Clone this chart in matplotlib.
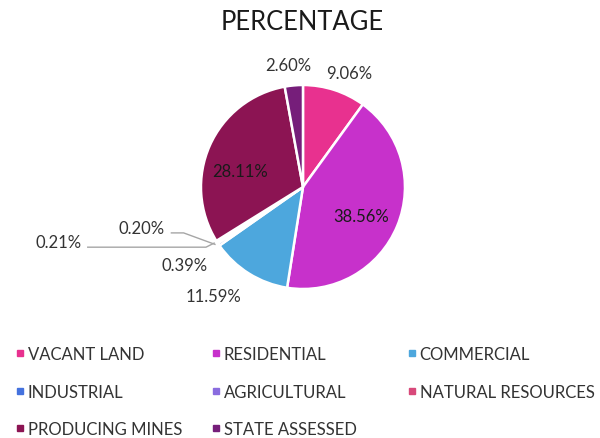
import matplotlib.pyplot as plt
from matplotlib.lines import Line2D
import numpy as np

plt.rcParams['font.family'] = ['Lato', 'DejaVu Sans']

categories = ['VACANT LAND', 'RESIDENTIAL', 'COMMERCIAL', 'INDUSTRIAL',
              'AGRICULTURAL', 'NATURAL RESOURCES', 'PRODUCING MINES', 'STATE ASSESSED']
percent = [9.06, 38.56, 11.59, 0.39, 0.20, 0.21, 28.11, 2.60]
colors = ['#E8318F', '#C731CB', '#4DA7DD', '#4472DE', '#8A6CDF', '#D8497A', '#8C1453', '#761E7A']

# where each label sits, relative to pie centre (radius = 1)
label_xy = [(0.45, 1.12), (0.57, -0.28), (-0.88, -1.07), (-1.16, -0.76),
            (-1.58, -0.40), (-2.40, -0.54), (-0.62, 0.16), (-0.14, 1.20)]
inside = [False, True, False, False, False, False, True, False]
leader = [False, False, False, False, True, True, False, False]

fig = plt.figure(figsize=(6, 4.39), dpi=100)
ax = fig.add_axes([0.3333, 0.3394, 0.3433, 0.4647])
wedges, _ = ax.pie(percent, colors=colors, startangle=90, counterclock=False,
                   wedgeprops=dict(edgecolor='white', linewidth=1.8))
ax.set_xlim(-1, 1)
ax.set_ylim(-1, 1)
ax.set_aspect('equal')
ax.axis('off')

for w, val, (tx, ty), ins, lead in zip(wedges, percent, label_xy, inside, leader):
    ax.text(tx, ty, f'{val:.2f}%', ha='center', va='center', fontsize=12,
            color='#1A1A1A' if ins else '#333333', clip_on=False)
    if lead:
        mid = np.deg2rad((w.theta1 + w.theta2) / 2)
        px, py = 1.03 * np.cos(mid), 1.03 * np.sin(mid)
        x0 = tx + 0.29
        knee = x0 + 0.12 if ty > -0.5 else px - 0.08
        ax.plot([x0, knee, px], [ty - 0.05, ty - 0.05, py],
                color='#A6A6A6', lw=1, clip_on=False)

fig.text(0.503, 0.948, 'PERCENTAGE', ha='center', va='center', fontsize=18.4, color='#1A1A1A')

# legend: three columns, each its own legend so columns line up like the original
columns = [[0, 3, 6], [1, 4, 7], [2, 5]]
col_x = [16, 212, 408]
for idx, x in zip(columns, col_x):
    handles = [Line2D([], [], marker='s', linestyle='none', markersize=5,
                      markerfacecolor=colors[i], markeredgecolor=colors[i]) for i in idx]
    fig.legend(handles, [categories[i] for i in idx], loc='upper left',
               bbox_to_anchor=(x / 600, 0.209), frameon=False, fontsize=12,
               handlelength=0.5, handletextpad=0.2, labelspacing=1.28,
               borderpad=0, borderaxespad=0, labelcolor='#333333')

fig.savefig('out.png', dpi=100)
